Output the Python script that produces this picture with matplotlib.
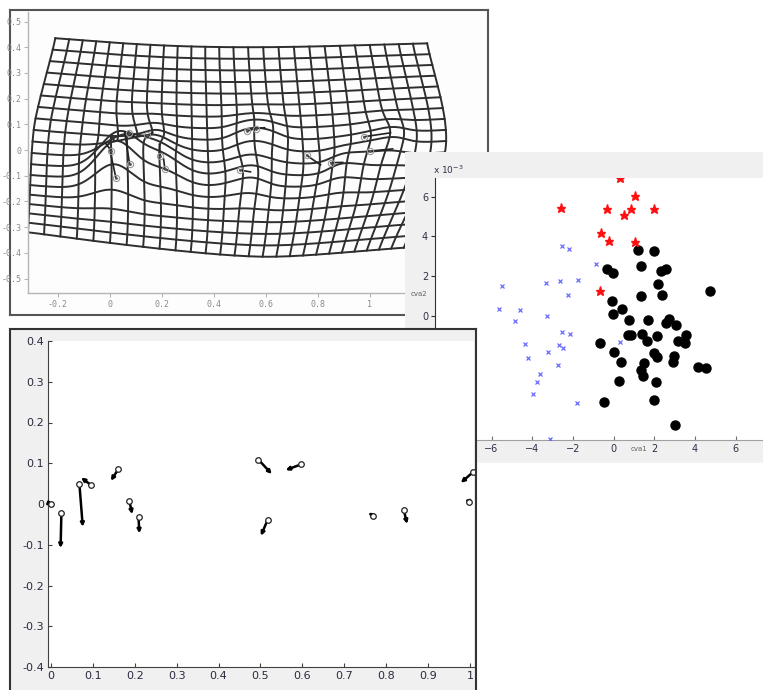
import numpy as np
import matplotlib
matplotlib.use("Agg")
import matplotlib.pyplot as plt

W, H = 763, 690

# landmark displacement vectors (tail -> head)
tail_x = [0.0, 0.025, 0.068, 0.095, 0.161, 0.187, 0.209, 0.495, 0.596, 0.517, 0.769, 0.842, 1.008, 0.998]
tail_y = [0.0, -0.021, 0.048, 0.047, 0.086, 0.008, -0.033, 0.109, 0.097, -0.039, -0.029, -0.015, 0.079, 0.004]
head_x = [0.005, 0.023, 0.076, 0.072, 0.143, 0.194, 0.211, 0.527, 0.560, 0.501, 0.757, 0.850, 0.978, 1.000]
head_y = [-0.002, -0.108, -0.056, 0.065, 0.057, -0.025, -0.072, 0.0735, 0.083, -0.078, -0.021, -0.049, 0.052, -0.004]

# outline control points of the deformation grid
edge_src_x = [-0.25, -0.25, -0.25, -0.25, 0.25, 0.6, 1.2, 1.2, 1.2, 0.5]
edge_src_y = [0.43, 0.10, -0.10, -0.36, -0.36, -0.36, -0.36, 0.0, 0.43, 0.43]
edge_dst_x = [-0.21, -0.29, -0.305, -0.315, 0.25, 0.6, 1.13, 1.29, 1.22, 0.5]
edge_dst_y = [0.435, 0.10, -0.10, -0.32, -0.39, -0.415, -0.38, 0.0, 0.415, 0.40]
grid_xlim = (-0.25, 1.2)
grid_ylim = (-0.36, 0.43)
n_cols, n_rows = 27, 19
bump_width, bump_gain = 0.06, 1.0

# canonical variate scores (x 10^-3)
red_x = [0.31, 1.06, -2.59, -0.34, 0.84, 1.98, 0.52, -0.61, -0.25, 1.06, -0.67]
red_y = [6.92, 6.05, 5.44, 5.37, 5.36, 5.37, 5.07, 4.15, 3.78, 3.73, 1.23]
blue_x = [-2.56, -2.18, -0.87, -1.74, -2.62, -3.34, -5.47, -2.23, -5.64, -4.60, -3.26, -4.85, -2.56,
          -2.13, -4.36, -2.67, -2.48, 0.31, -3.24, -4.20, -2.72, -3.62, -3.78, -3.95, -1.79, -3.13]
blue_y = [3.53, 3.36, 2.60, 1.80, 1.73, 1.66, 1.50, 1.04, 0.32, 0.27, 0.0, -0.27, -0.84,
          -0.94, -1.43, -1.48, -1.61, -1.34, -1.83, -2.15, -2.48, -2.95, -3.36, -3.95, -4.41, -6.22]
black_x = [1.21, 2.0, 1.34, -0.31, -0.02, 2.32, 2.55, 2.16, 1.34, 2.37, 4.73, -0.10, 0.42, -0.05,
           0.77, 1.67, 2.73, 2.55, 3.08, 0.72, 1.38, 2.11, 3.54, -0.67, 1.62, 3.17, 3.50, 0.03,
           1.98, 2.11, 2.96, 2.93, 0.34, 1.49, 4.16, 4.54, 1.34, 1.46, 0.26, 2.08, -0.46, 1.98, 3.03, 0.85]
black_y = [3.31, 3.26, 2.52, 2.34, 2.17, 2.27, 2.35, 1.58, 1.01, 1.04, 1.24, 0.74, 0.32, 0.09,
           -0.22, -0.22, -0.17, -0.35, -0.47, -0.97, -0.92, -1.01, -0.97, -1.36, -1.27, -1.26, -1.36, -1.84,
           -1.86, -2.07, -2.01, -2.32, -2.35, -2.40, -2.57, -2.65, -2.74, -3.04, -3.27, -3.36, -4.36, -4.25, -5.51, -0.95]


def box(l, t, r, b):
    return [l / W, 1 - b / H, (r - l) / W, (b - t) / H]


def frame(rect, face, edge, lw):
    a = fig.add_axes(rect)
    a.set_facecolor(face)
    a.set_xticks([])
    a.set_yticks([])
    for s in a.spines.values():
        s.set_color(edge)
        s.set_linewidth(lw)
    return a


# outline: thin plate spline through the edge points
def U(r):
    with np.errstate(divide="ignore", invalid="ignore"):
        u = r ** 2 * np.log(r)
    return np.nan_to_num(u)


src = np.column_stack([edge_src_x, edge_src_y])
dst = np.column_stack([edge_dst_x, edge_dst_y])
n = len(src)
K = U(np.linalg.norm(src[:, None, :] - src[None, :, :], axis=2))
P = np.hstack([np.ones((n, 1)), src])
L = np.zeros((n + 3, n + 3))
L[:n, :n] = K
L[:n, n:] = P
L[n:, :n] = P.T
coef = np.linalg.solve(L, np.vstack([dst, np.zeros((3, 2))]))

# grid is drawn from the target shape back to the reference
lm = np.column_stack([head_x, head_y])
disp = np.column_stack([np.subtract(tail_x, head_x), np.subtract(tail_y, head_y)])


def warp(px, py):
    pts = np.column_stack([px, py])
    k = U(np.linalg.norm(pts[:, None, :] - src[None, :, :], axis=2))
    pp = np.hstack([np.ones((len(pts), 1)), pts])
    out = k @ coef[:n] + pp @ coef[n:]
    d2 = ((pts[:, None, :] - lm[None, :, :]) ** 2).sum(axis=2)
    g = np.exp(-d2 / (2 * bump_width ** 2))
    out = out + bump_gain * (g @ disp)
    return out[:, 0], out[:, 1]


fig = plt.figure(figsize=(W / 100, H / 100), dpi=100)
fig.patch.set_facecolor("white")

# ---- panel 1 : deformation grid
frame(box(10, 10, 488, 315), "#fdfdfd", "#555555", 1.5)
ax1 = fig.add_axes(box(28, 12, 475, 293))
ax1.set_facecolor("none")
ax1.set_xlim(-0.315, 1.404)
ax1.set_ylim(-0.556, 0.537)
gx = np.linspace(grid_xlim[0], grid_xlim[1], n_cols)
gy = np.linspace(grid_ylim[0], grid_ylim[1], n_rows)
fine_x = np.linspace(grid_xlim[0], grid_xlim[1], 300)
fine_y = np.linspace(grid_ylim[0], grid_ylim[1], 300)
for yv in gy:
    wx, wy = warp(fine_x, np.full_like(fine_x, yv))
    ax1.plot(wx, wy, color="#2e2e2e", lw=1.4)
for xv in gx:
    wx, wy = warp(np.full_like(fine_y, xv), fine_y)
    ax1.plot(wx, wy, color="#2e2e2e", lw=1.4)
mx, my = warp(np.array(head_x), np.array(head_y))
for tx, ty, hx, hy in zip(head_x, head_y, mx, my):
    ax1.plot([tx, hx], [ty, hy], color="#222222", lw=1.2)
ax1.plot(head_x, head_y, "o", mfc="none", mec="#999999", ms=4.5, mew=0.8)
ax1.plot(head_x, head_y, ".", color="#555555", ms=2)
ax1.set_xticks([-0.2, 0, 0.2, 0.4, 0.6, 0.8, 1])
ax1.set_xticklabels(["-0.2", "0", "0.2", "0.4", "0.6", "0.8", "1"])
ax1.set_yticks(np.round(np.arange(-0.5, 0.51, 0.1), 1))
ax1.set_yticklabels(["-0.5", "-0.4", "-0.3", "-0.2", "-0.1", "0", "0.1", "0.2", "0.3", "0.4", "0.5"])
for s in ["top", "right"]:
    ax1.spines[s].set_visible(False)
for s in ["left", "bottom"]:
    ax1.spines[s].set_color("#b5b5b5")
    ax1.spines[s].set_linewidth(1.0)
ax1.tick_params(direction="out", length=3, color="#b5b5b5", labelcolor="#8a8a8a",
                labelsize=6, pad=2)
for t in ax1.get_xticklabels() + ax1.get_yticklabels():
    t.set_family("DejaVu Sans Mono")

# ---- panel 2 : scatter of canonical variates
frame(box(405, 152, 775, 462), "#f0f0f0", "#f0f0f0", 0.5)
ax2 = fig.add_axes(box(435, 178, 763, 440))
ax2.set_xlim(-8.78, 7.34)
ax2.set_ylim(-6.26, 6.94)
ax2.plot(black_x, black_y, "o", color="black", ms=6.5, zorder=3)
ax2.plot(red_x, red_y, "*", color="#ff1010", ms=6.5, zorder=3)
ax2.plot(blue_x, blue_y, "x", color="#6a6aff", ms=3.5, mew=0.9, zorder=3)
ax2.set_xticks([-6, -4, -2, 0, 2, 4, 6])
ax2.set_yticks([0, 2, 4, 6])
for s in ["top", "right"]:
    ax2.spines[s].set_visible(False)
ax2.spines["left"].set_color("#303030")
ax2.spines["bottom"].set_color("#a0a0a0")
ax2.tick_params(axis="x", direction="in", length=3, color="#707070", labelcolor="#303048",
                labelsize=7, pad=3)
ax2.tick_params(axis="y", direction="out", length=3, color="#303030", labelcolor="#303048",
                labelsize=7, pad=2)
fig.text(433 / W, 1 - 170 / H, r"x 10$^{-3}$", fontsize=6.5, color="#303048", va="center")
fig.text(639 / W, 1 - 449 / H, "cva1", fontsize=5, color="#606060", ha="center", va="center")
fig.text(419 / W, 1 - 294 / H, "cva2", fontsize=5, color="#606060", ha="center", va="center")

# ---- panel 3 : landmark displacement vectors
frame(box(10, 329, 476, 705), "#f0f0f0", "#333333", 1.5)
ax3 = fig.add_axes(box(48, 341, 474, 667))
ax3.set_xlim(-0.007, 1.0095)
ax3.set_ylim(-0.4, 0.4)
for tx, ty, hx, hy in zip(tail_x, tail_y, head_x, head_y):
    ax3.annotate("", xy=(hx, hy), xytext=(tx, ty),
                 arrowprops=dict(arrowstyle="-|>", color="black", lw=1.8,
                                 mutation_scale=5, shrinkA=0, shrinkB=0))
ax3.plot(tail_x, tail_y, "o", mfc="white", mec="#222222", ms=4, mew=0.9, zorder=4)
ax3.set_xticks(np.round(np.arange(0, 1.01, 0.1), 1))
ax3.set_xticklabels(["0", "0.1", "0.2", "0.3", "0.4", "0.5", "0.6", "0.7", "0.8", "0.9", "1"])
ax3.set_yticks(np.round(np.arange(-0.4, 0.41, 0.1), 1))
ax3.set_yticklabels(["-0.4", "-0.3", "-0.2", "-0.1", "0", "0.1", "0.2", "0.3", "0.4"])
for s in ["top", "right"]:
    ax3.spines[s].set_visible(False)
for s in ["left", "bottom"]:
    ax3.spines[s].set_color("#404040")
ax3.tick_params(direction="in", length=3, color="#404040", labelcolor="#2a2a40",
                labelsize=8, pad=3)

fig.savefig("out.png", dpi=100)
